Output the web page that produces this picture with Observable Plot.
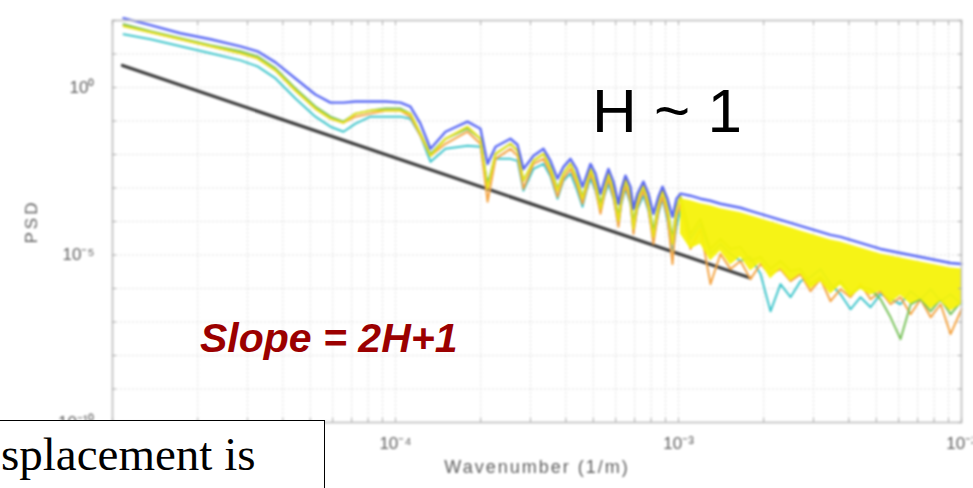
<!DOCTYPE html>
<html>
<head>
<meta charset="utf-8">
<script src="https://cdn.jsdelivr.net/npm/d3@7"></script>
<script src="https://cdn.jsdelivr.net/npm/@observablehq/plot@0.6"></script>
<style>
  html, body { margin: 0; padding: 0; background: #fff; }
  #wrap { position: relative; width: 973px; height: 488px; overflow: hidden; }
  #chart svg { filter: blur(0.9px); display: block; }
  #chart g[aria-label="x-axis tick label"], #chart g[aria-label="y-axis tick label"] { font-size: 17px; }
  #chart g[aria-label="x-axis tick label"] text, #chart g[aria-label="y-axis tick label"] text { font-size: 17px !important; }
  .hnote { position: absolute; left: 592px; top: 80px; font-family: "Liberation Sans", Arial, sans-serif; font-size: 62px; line-height: 62px; color: #000; white-space: nowrap; }
  .slope { position: absolute; left: 200px; top: 318px; font-family: "Liberation Sans", Arial, sans-serif; font-size: 41px; line-height: 41px; font-weight: bold; font-style: italic; color: #9b0000; white-space: nowrap; }
  .tbox { position: absolute; left: -3px; top: 420px; width: 328px; height: 90px; border: 1.5px solid #000; background: #fff; box-sizing: border-box; }
  .tbox span { position: absolute; left: 3px; top: 10px; font-family: "Liberation Serif", "Times New Roman", serif; font-size: 47px; line-height: 46px; color: #000; white-space: nowrap; }
</style>
</head>
<body>
<div id="wrap">
  <div id="chart"></div>
  <div class="hnote">H ~ 1</div>
  <div class="slope">Slope = 2H+1</div>
  <div class="tbox"><span>splacement is</span></div>
</div>
<script>
// ---- Data (wavenumber in 1/m, PSD given as log10 exponents) ----
const mainK = [1.094e-5, 1.362e-5, 1.738e-5, 2.219e-5, 2.833e-5, 3.254e-5, 3.767e-5, 4.43e-5, 5.21e-5, 5.89e-5,
  6.55e-5, 7.22e-5, 8.16e-5, 9.22e-5, 1.042e-4, 1.129e-4, 1.225e-4, 1.33e-4, 1.502e-4, 1.796e-4,
  1.997e-4, 2.115e-4, 2.257e-4, 2.548e-4, 2.699e-4, 2.833e-4, 3.074e-4, 3.334e-4, 3.53e-4, 3.737e-4,
  3.923e-4, 4.153e-4, 4.361e-4, 4.579e-4, 4.73e-4, 4.886e-4, 5.089e-4, 5.3e-4, 5.475e-4, 5.656e-4,
  5.891e-4, 6.136e-4, 6.287e-4, 6.494e-4, 6.764e-4, 6.931e-4, 7.16e-4, 7.518e-4, 7.83e-4, 8.156e-4,
  8.494e-4, 8.777e-4, 9.141e-4, 9.521e-4, 9.838e-4, 1.0165e-3];

const blueLog = [2.07,1.86,1.62,1.44,1.23,1.08,0.75,0.27,-0.21,-0.45,
  -0.45,-0.42,-0.42,-0.42,-0.45,-0.57,-1.08,-1.83,-1.32,-1.02,
  -1.23,-2.28,-1.77,-1.53,-1.71,-2.43,-2.04,-1.83,-2.19,-2.72,
  -2.37,-2.13,-2.43,-2.96,-2.63,-2.28,-2.57,-3.17,-2.78,-2.43,
  -2.81,-3.47,-3.02,-2.63,-2.96,-3.62,-3.17,-2.81,-3.17,-3.77,
  -3.26,-2.96,-3.32,-3.86,-3.32,-3.17];
const yellowLog = [1.83,1.65,1.44,1.23,1.02,0.87,0.51,-0.09,-0.63,-0.93,
  -1.05,-0.78,-0.69,-0.69,-0.69,-0.78,-1.38,-2.04,-1.53,-1.17,
  -1.53,-3.02,-1.98,-1.68,-1.89,-2.78,-2.19,-1.98,-2.43,-3.08,
  -2.57,-2.28,-2.72,-3.32,-2.87,-2.43,-2.87,-3.62,-3.02,-2.57,
  -3.08,-3.98,-3.26,-2.72,-3.23,-4.22,-3.38,-2.93,-3.47,-4.46,
  -3.47,-3.08,-3.62,-4.67,-3.62,-3.26];
const greenLog = [1.89,1.68,1.47,1.26,1.08,0.93,0.57,-0.03,-0.57,-0.87,
  -1.02,-0.78,-0.69,-0.63,-0.63,-0.78,-1.38,-1.98,-1.53,-1.23,
  -1.53,-2.93,-1.98,-1.68,-1.89,-2.78,-2.19,-1.98,-2.37,-3.02,
  -2.57,-2.28,-2.66,-3.26,-2.87,-2.43,-2.81,-3.47,-3.02,-2.57,
  -3.02,-3.86,-3.23,-2.78,-3.17,-4.07,-3.32,-2.96,-3.41,-4.28,
  -3.47,-3.08,-3.56,-4.52,-3.56,-3.26];
const orangeLog = [1.86,1.65,1.44,1.23,1.02,0.87,0.51,-0.09,-0.63,-0.93,
  -1.05,-0.87,-0.78,-0.69,-0.69,-0.87,-1.44,-2.04,-1.68,-1.32,
  -1.68,-3.41,-2.13,-1.83,-2.04,-3.02,-2.28,-2.13,-2.57,-3.26,
  -2.72,-2.43,-2.87,-3.47,-3.02,-2.57,-3.02,-3.77,-3.17,-2.72,
  -3.26,-4.16,-3.41,-2.93,-3.41,-4.37,-3.56,-3.08,-3.62,-4.67,
  -3.68,-3.26,-3.86,-5.27,-3.86,-3.47];
const cyanLog = [1.59,1.44,1.23,1.02,0.81,0.63,0.27,-0.33,-0.87,-1.17,
  -1.32,-1.08,-0.87,-0.87,-0.87,-0.93,-1.44,-2.22,-1.83,-1.74,
  -1.77,-2.87,-2.13,-2.13,-2.19,-3.08,-2.43,-2.28,-2.66,-3.32,
  -2.78,-2.57,-3.02,-3.56,-3.08,-2.72,-3.08,-3.68,-3.23,-2.87,
  -3.32,-4.07,-3.47,-3.02,-3.47,-4.28,-3.62,-3.23,-3.68,-4.52,
  -3.77,-3.32,-3.98,-4.97,-4.16,-3.62];

const tailK = [1.0165e-3, 1.102e-3, 1.196e-3, 1.297e-3, 1.407e-3, 1.527e-3, 1.656e-3, 1.796e-3, 1.949e-3, 2.114e-3,
  2.293e-3, 2.488e-3, 2.699e-3, 2.927e-3, 3.176e-3, 3.445e-3, 3.737e-3, 4.054e-3, 4.398e-3, 4.771e-3,
  5.176e-3, 5.615e-3, 6.09e-3, 6.61e-3, 7.17e-3, 7.78e-3, 8.44e-3, 9.15e-3, 1e-2];
const blueTailLog = [-3.17,-3.23,-3.32,-3.38,-3.47,-3.53,-3.59,-3.68,-3.77,-3.86,
  -3.95,-4.04,-4.13,-4.22,-4.31,-4.40,-4.46,-4.55,-4.64,-4.73,
  -4.82,-4.88,-4.94,-5.00,-5.06,-5.12,-5.18,-5.24,-5.27];
const bandTopLog = [-3.32,-3.38,-3.47,-3.53,-3.62,-3.68,-3.74,-3.83,-3.92,-4.01,
  -4.10,-4.19,-4.28,-4.37,-4.46,-4.55,-4.61,-4.70,-4.79,-4.88,
  -4.97,-5.03,-5.09,-5.15,-5.21,-5.27,-5.33,-5.39,-5.42];
const bandLowLog = [-4.37,-4.82,-4.67,-5.18,-4.88,-5.30,-5.06,-5.48,-5.24,-5.72,
  -5.42,-5.78,-5.57,-6.02,-5.78,-6.17,-5.90,-6.26,-6.02,-6.20,
  -6.08,-6.44,-6.20,-6.47,-6.32,-6.62,-6.38,-6.68,-6.47];
const orangeTailLog = [-3.47,-4.82,-4.22,-5.87,-4.97,-5.42,-5.18,-5.72,-5.27,-5.57,
  -5.42,-5.78,-5.57,-6.08,-5.72,-6.38,-6.02,-6.26,-5.87,-6.32,
  -6.08,-6.47,-6.26,-6.77,-6.32,-6.86,-6.47,-7.36,-6.62];
const cyanTailLog = [-3.62,-4.52,-4.07,-4.97,-4.67,-4.97,-5.18,-5.06,-5.57,-6.68,
  -5.87,-6.26,-5.78,-5.66,-5.42,-5.87,-6.17,-6.62,-6.26,-6.56,
  -6.17,-6.32,-6.47,-6.08,-6.32,-6.02,-6.38,-6.17,-6.47];
const greenTailLog = [-3.26,-4.37,-3.92,-4.82,-4.52,-4.82,-4.76,-5.18,-5.06,-5.42,
  -5.18,-5.48,-5.42,-5.87,-5.66,-6.02,-5.78,-6.17,-5.96,-6.02,
  -6.32,-6.86,-7.51,-6.47,-6.32,-6.68,-6.32,-6.77,-6.38];

// Reference power-law line (slope ~ -(2H+1))
const refK = [1.084e-5, 1.795e-3];
const refPsd = [4.56, 2.05e-6];

// Axis ticks (10^-5 on x is hidden behind the text box in the reference)
const xDecades = [1e-4, 1e-3, 1e-2];
const xTickLabels = ["10\u207B\u2074", "10\u207B\u00B3", "10\u207B\u00B2"];
const xMinorTicks = [1e-5,2e-5,3e-5,4e-5,5e-5,6e-5,7e-5,8e-5,9e-5,
  1e-4,2e-4,3e-4,4e-4,5e-4,6e-4,7e-4,8e-4,9e-4,
  1e-3,2e-3,3e-3,4e-3,5e-3,6e-3,7e-3,8e-3,9e-3,1e-2];
const yDecades = [1e-10,1e-9,1e-8,1e-7,1e-6,1e-5,1e-4,1e-3,1e-2,1e-1,1e0,1e1,1e2];
const yLabeled = [1e0, 1e-5, 1e-10];
const yTickLabels = ["10\u2070", "10\u207B\u2075", "10\u207B\u00B9\u2070"];

const colors = {blue: "#3e50f2", cyan: "#3fc6cc", green: "#78c25a", orange: "#f4a545", yellow: "#e8e21a", band: "#f6f20a", ref: "#3a3a3a"};

// ---- Build tables ----
const mainRows = (logs) => mainK.map((k, i) => ({k, psd: 10 ** logs[i]}));
const fullRows = (logs, tlogs) => mainRows(logs).concat(tailK.slice(1).map((k, i) => ({k, psd: 10 ** tlogs[i + 1]})));
const bandRows = tailK.map((k, i) => ({k, top: 10 ** bandTopLog[i], low: 10 ** bandLowLog[i]}));
const refRows = refK.map((k, i) => ({k, psd: refPsd[i]}));

const near = (arr, d) => arr.findIndex(v => Math.abs(v / d - 1) < 1e-6);

const chart = Plot.plot({
  width: 973,
  height: 488,
  marginTop: 20,
  marginBottom: 66,
  marginLeft: 112,
  marginRight: 12,
  style: {fontFamily: "'Liberation Sans', Arial, sans-serif", fontSize: "16px", color: "#5e5e5e", background: "#fff"},
  x: {type: "log", domain: [1e-5, 1e-2]},
  y: {type: "log", domain: [1e-10, 1e2]},
  marks: [
    Plot.gridX(xMinorTicks, {stroke: "#dedede", strokeOpacity: 1, strokeDasharray: "2,2"}),
    Plot.gridY(yDecades, {stroke: "#dedede", strokeOpacity: 1, strokeDasharray: "2,2"}),
    Plot.line(refRows, {x: "k", y: "psd", stroke: colors.ref, strokeWidth: 3.2}),
    Plot.line(fullRows(cyanLog, cyanTailLog), {x: "k", y: "psd", stroke: colors.cyan, strokeWidth: 2}),
    Plot.line(fullRows(orangeLog, orangeTailLog), {x: "k", y: "psd", stroke: colors.orange, strokeWidth: 2}),
    Plot.line(fullRows(greenLog, greenTailLog), {x: "k", y: "psd", stroke: colors.green, strokeWidth: 2}),
    Plot.areaY(bandRows, {x: "k", y1: "low", y2: "top", fill: colors.band, fillOpacity: 0.95}),
    Plot.line(mainRows(yellowLog), {x: "k", y: "psd", stroke: colors.yellow, strokeWidth: 2}),
    Plot.line(fullRows(blueLog, blueTailLog), {x: "k", y: "psd", stroke: colors.blue, strokeWidth: 2.4, strokeOpacity: 0.85}),
    Plot.frame({stroke: "#c4c4c4", strokeWidth: 1.8}),
    Plot.axisX(xMinorTicks, {anchor: "bottom", tickSize: 0, tickPadding: 14,
      tickFormat: d => { const i = near(xDecades, d); return i >= 0 ? xTickLabels[i] : ""; },
      label: "Wavenumber (1/m)", labelAnchor: "center", labelOffset: 50, labelArrow: "none"}),
    Plot.axisX(xMinorTicks, {anchor: "bottom", tickSize: -4, tickFormat: () => "", label: null, stroke: "#aaa"}),
    Plot.axisX(xMinorTicks, {anchor: "top", tickSize: -4, tickFormat: () => "", label: null, stroke: "#aaa"}),
    Plot.axisY(yDecades, {anchor: "left", tickSize: 0, tickPadding: 18,
      tickFormat: d => { const i = near(yLabeled, d); return i >= 0 ? yTickLabels[i] : ""; },
      label: "PSD", labelAnchor: "center", labelOffset: 88, labelArrow: "none"}),
    Plot.axisY(yDecades, {anchor: "left", tickSize: -4, tickFormat: () => "", label: null, stroke: "#aaa"}),
    Plot.axisY(yDecades, {anchor: "right", tickSize: -4, tickFormat: () => "", label: null, stroke: "#aaa"})
  ]
});
// text styling to mimic the original's larger, soft lettering
const tickTexts = new Set([...xTickLabels, ...yTickLabels]);
chart.querySelectorAll("text").forEach(t => {
  const s = (t.textContent || "").trim();
  if (s === "Wavenumber (1/m)") { t.style.fontSize = "18px"; t.style.letterSpacing = "2px"; }
  else if (s === "PSD") { t.style.fontSize = "17px"; t.style.letterSpacing = "3px"; }
  else if (tickTexts.has(s)) { t.setAttribute("font-size", "17"); t.style.fontSize = "17px"; }
});
chart.querySelectorAll("g[aria-label$='tick label']").forEach(g => g.setAttribute("font-size", "17"));
document.getElementById("chart").appendChild(chart);
</script>
</body>
</html>
